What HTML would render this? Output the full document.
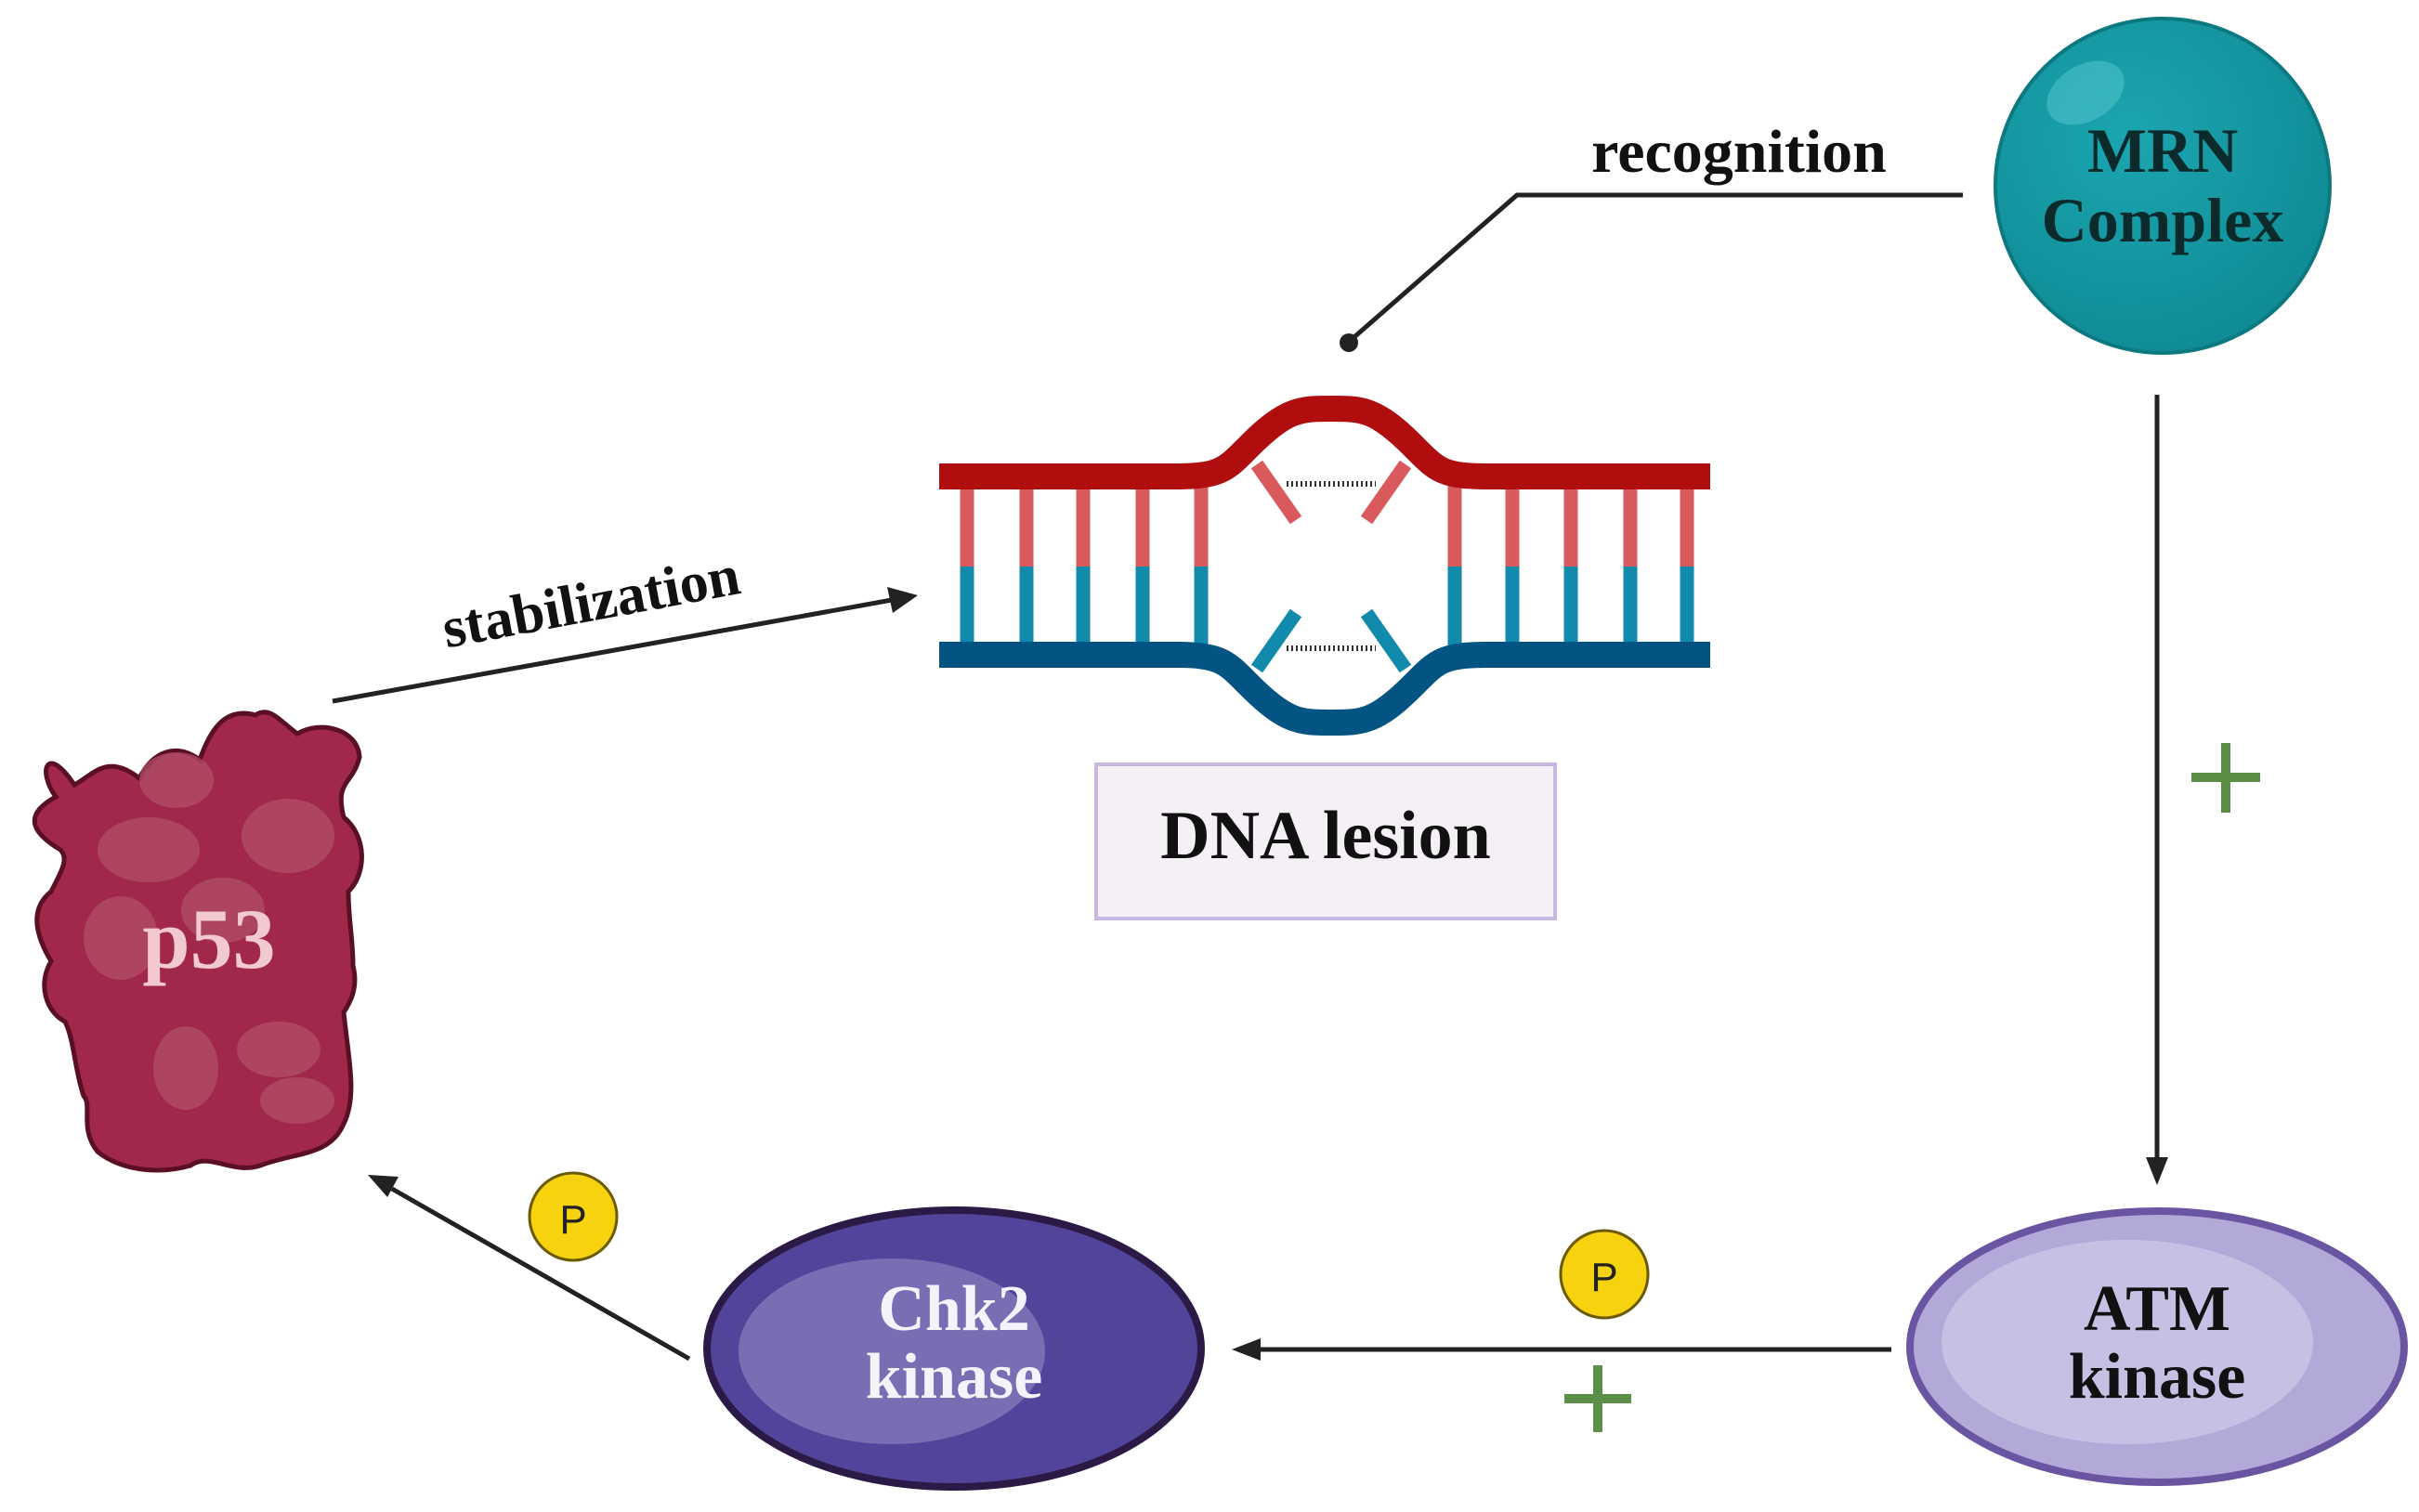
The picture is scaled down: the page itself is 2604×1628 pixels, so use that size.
<!DOCTYPE html>
<html><head><meta charset="utf-8"><style>
html,body{margin:0;padding:0;background:#fff}
svg{display:block}
text{font-family:"Liberation Serif",serif;font-weight:bold}
</style></head><body>
<svg width="2604" height="1628" viewBox="0 0 2604 1628" xmlns="http://www.w3.org/2000/svg">
<defs>
<marker id="ah" viewBox="0 0 10 10" refX="9" refY="5" markerWidth="8" markerHeight="8" markerUnits="userSpaceOnUse" orient="auto">
</marker>
<radialGradient id="mrn" cx="0.4" cy="0.35" r="0.7"><stop offset="0" stop-color="#1ba6b0"/><stop offset="1" stop-color="#0f8a94"/></radialGradient>
</defs>

<!-- recognition connector -->
<polyline points="2113,210 1633,210 1452,368" fill="none" stroke="#222" stroke-width="5"/>
<circle cx="1452" cy="369" r="10" fill="#222"/>
<text x="1872" y="185" font-size="66" text-anchor="middle" fill="#111">recognition</text>

<!-- MRN -->
<circle cx="2328" cy="200" r="180" fill="url(#mrn)" stroke="#0c7880" stroke-width="4"/>
<ellipse cx="2245" cy="100" rx="45" ry="30" fill="#4fc2c8" opacity="0.6" transform="rotate(-30 2245 100)"/>
<text x="2328" y="185" font-size="68" text-anchor="middle" fill="#0a2a2c">MRN</text>
<text x="2328" y="260" font-size="68" text-anchor="middle" fill="#0a2a2c">Complex</text>

<!-- DNA -->
<g>
<g stroke-width="15">
<g stroke="#d95a5c">
<line x1="1041" y1="520" x2="1041" y2="610"/><line x1="1105" y1="520" x2="1105" y2="610"/><line x1="1166" y1="520" x2="1166" y2="610"/><line x1="1230" y1="520" x2="1230" y2="610"/><line x1="1293" y1="520" x2="1293" y2="610"/>
<line x1="1566" y1="520" x2="1566" y2="610"/><line x1="1628" y1="520" x2="1628" y2="610"/><line x1="1691" y1="520" x2="1691" y2="610"/><line x1="1755" y1="520" x2="1755" y2="610"/><line x1="1816" y1="520" x2="1816" y2="610"/>
<line x1="1353" y1="500" x2="1395" y2="560"/><line x1="1513" y1="500" x2="1471" y2="560"/>
</g>
<g stroke="#118aab">
<line x1="1041" y1="610" x2="1041" y2="700"/><line x1="1105" y1="610" x2="1105" y2="700"/><line x1="1166" y1="610" x2="1166" y2="700"/><line x1="1230" y1="610" x2="1230" y2="700"/><line x1="1293" y1="610" x2="1293" y2="700"/>
<line x1="1566" y1="610" x2="1566" y2="700"/><line x1="1628" y1="610" x2="1628" y2="700"/><line x1="1691" y1="610" x2="1691" y2="700"/><line x1="1755" y1="610" x2="1755" y2="700"/><line x1="1816" y1="610" x2="1816" y2="700"/>
<line x1="1353" y1="720" x2="1395" y2="660"/><line x1="1513" y1="720" x2="1471" y2="660"/>
</g>
</g>
<line x1="1385" y1="521" x2="1481" y2="521" stroke="#333" stroke-width="6" stroke-dasharray="2,3"/>
<line x1="1385" y1="698" x2="1481" y2="698" stroke="#333" stroke-width="6" stroke-dasharray="2,3"/>
<path d="M1011,513 L1265,513 C1315,513 1320,505 1345,480 C1385,440 1400,440 1433,440 C1466,440 1481,440 1521,480 C1546,505 1551,513 1601,513 L1841,513" fill="none" stroke="#b00e0e" stroke-width="28"/>
<path d="M1011,705 L1265,705 C1315,705 1320,713 1345,738 C1385,778 1400,778 1433,778 C1466,778 1481,778 1521,738 C1546,713 1551,705 1601,705 L1841,705" fill="none" stroke="#035483" stroke-width="28"/>
</g>

<!-- DNA lesion box -->
<rect x="1180" y="823" width="494" height="166" fill="#f4f0f6" stroke="#c7b8e2" stroke-width="4"/>
<text x="1427" y="924" font-size="74" text-anchor="middle" fill="#111">DNA lesion</text>

<!-- stabilization -->
<line x1="358" y1="755" x2="960" y2="646" stroke="#222" stroke-width="5"/>
<polygon points="988,641 955,632 961,660" fill="#222"/>
<text x="0" y="0" font-size="62" fill="#111" text-anchor="middle" transform="translate(640,668) rotate(-10.5)">stabilization</text>

<!-- p53 -->
<path d="M60,858 C40,830 50,800 80,845 C100,835 115,810 150,838 C165,808 190,800 215,818 C225,790 240,760 275,770 C290,760 300,775 320,790 C345,775 385,785 387,815 C380,845 360,840 370,880 C395,900 395,940 375,960 C375,990 380,1010 380,1040 C385,1060 380,1075 370,1090 C375,1140 385,1180 370,1210 C355,1245 320,1240 280,1255 C250,1265 225,1240 205,1255 C170,1265 130,1260 105,1240 C85,1215 100,1190 90,1180 C80,1150 80,1120 70,1100 C50,1090 40,1060 55,1035 C40,1010 30,980 55,960 C65,940 75,925 65,915 C40,900 20,880 60,858 Z" fill="#a1284b" stroke="#5a0f24" stroke-width="5"/>
<g fill="#b3506a" opacity="0.7">
<ellipse cx="160" cy="915" rx="55" ry="35"/><ellipse cx="310" cy="900" rx="50" ry="40"/><ellipse cx="130" cy="1010" rx="40" ry="45"/>
<ellipse cx="300" cy="1130" rx="45" ry="30"/><ellipse cx="200" cy="1150" rx="35" ry="45"/><ellipse cx="320" cy="1185" rx="40" ry="25"/>
<ellipse cx="240" cy="980" rx="45" ry="35"/><ellipse cx="190" cy="840" rx="40" ry="30"/>
</g>
<text x="225" y="1042" font-size="92" text-anchor="middle" fill="#f2c9cf" font-weight="normal">p53</text>

<!-- MRN -> ATM -->
<line x1="2322" y1="425" x2="2322" y2="1248" stroke="#222" stroke-width="5"/>
<polygon points="2322,1276 2310,1246 2334,1246" fill="#222"/>
<g stroke="#5b8f48" stroke-width="10"><line x1="2396" y1="800" x2="2396" y2="875"/><line x1="2359" y1="837" x2="2433" y2="837"/></g>

<!-- ATM -->
<ellipse cx="2322" cy="1450" rx="266" ry="146" fill="#b3a9d8" stroke="#6a55a3" stroke-width="8"/>
<ellipse cx="2290" cy="1445" rx="200" ry="110" fill="#c8c0e4"/>
<text x="2322" y="1432" font-size="70" text-anchor="middle" fill="#111">ATM</text>
<text x="2322" y="1505" font-size="70" text-anchor="middle" fill="#111">kinase</text>

<!-- ATM -> Chk2 -->
<line x1="2036" y1="1453" x2="1355" y2="1453" stroke="#222" stroke-width="5"/>
<polygon points="1326,1453 1357,1441 1357,1465" fill="#222"/>
<circle cx="1727" cy="1372" r="47" fill="#f6d20f" stroke="#6b5a00" stroke-width="3"/>
<text x="1727" y="1390" font-size="44" text-anchor="middle" fill="#222" style="font-family:'Liberation Sans',sans-serif;font-weight:normal">P</text>
<g stroke="#5b8f48" stroke-width="10"><line x1="1720" y1="1470" x2="1720" y2="1542"/><line x1="1684" y1="1506" x2="1756" y2="1506"/></g>

<!-- Chk2 -->
<ellipse cx="1027" cy="1452" rx="266" ry="149" fill="#52449b" stroke="#2a1a45" stroke-width="8"/>
<ellipse cx="960" cy="1455" rx="165" ry="100" fill="#7a6db4"/>
<text x="1027" y="1432" font-size="70" text-anchor="middle" fill="#f4f2fb">Chk2</text>
<text x="1027" y="1505" font-size="70" text-anchor="middle" fill="#f4f2fb">kinase</text>

<!-- Chk2 -> p53 -->
<line x1="742" y1="1463" x2="422" y2="1280" stroke="#222" stroke-width="5"/>
<polygon points="396,1265 429,1267 417,1289" fill="#222"/>
<circle cx="617" cy="1310" r="47" fill="#f6d20f" stroke="#6b5a00" stroke-width="3"/>
<text x="617" y="1328" font-size="44" text-anchor="middle" fill="#222" style="font-family:'Liberation Sans',sans-serif;font-weight:normal">P</text>
</svg>
</body></html>
